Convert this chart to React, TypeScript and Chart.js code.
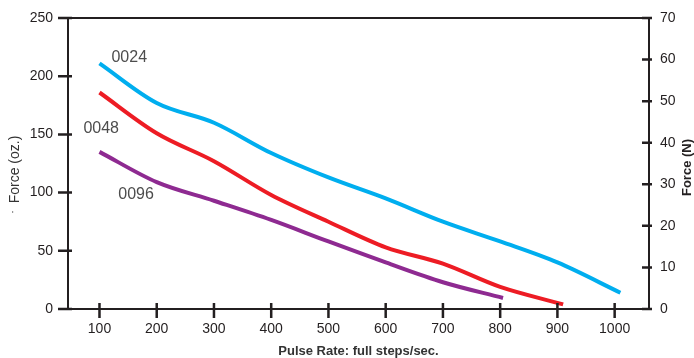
import React, { useEffect, useRef } from "react";
import { Chart, registerables } from "chart.js";

Chart.register(...registerables);

const xTicks = [100, 200, 300, 400, 500, 600, 700, 800, 900, 1000];
const s0024X = [100, 200, 300, 400, 500, 600, 700, 800, 900, 1010];
const s0024Y = [211, 177, 160, 134, 113, 95, 75, 58, 40, 14];
const s0048X = [100, 200, 300, 400, 500, 600, 700, 800, 910];
const s0048Y = [186, 151, 127, 98, 75, 53, 39, 19, 4];
const s0096X = [100, 200, 300, 400, 500, 600, 700, 805];
const s0096Y = [135, 109, 93, 76.5, 58, 40, 23, 9.5];
const seriesNames = ["0024", "0048", "0096"];
const labelX = [152, 103, 164];
const labelY = [216, 155, 98];
const xTitle = "Pulse Rate: full steps/sec.";
const yTitle = "Force (oz.)";
const y2Title = "Force (N)";

const AXIS = "#231f20";
const FONT = "'Liberation Sans', Arial, sans-serif";

export default function App() {
  const ref = useRef<HTMLCanvasElement | null>(null);
  useEffect(() => {
    document.body.style.margin = "0";
    const ctx = ref.current!.getContext("2d")!;
    const mk = (xs: number[], ys: number[]) => xs.map((x, i) => ({ x, y: ys[i] }));
    const frame = {
      id: "frame",
      afterDraw(chart: any) {
        const c = chart.ctx;
        const a = chart.chartArea;
        const x = chart.scales.x;
        const y = chart.scales.y;
        const y2 = chart.scales.y2;
        const midY = (a.top + a.bottom) / 2;
        c.save();
        c.strokeStyle = AXIS;
        c.lineWidth = 2;
        c.strokeRect(a.left, a.top, a.right - a.left, a.bottom - a.top);
        c.lineWidth = 2.5;
        c.beginPath();
        x.ticks.forEach((t: any) => {
          const px = x.getPixelForValue(t.value);
          c.moveTo(px, a.bottom - 6);
          c.lineTo(px, a.bottom + 9);
        });
        y.ticks.forEach((t: any) => {
          const py = y.getPixelForValue(t.value);
          c.moveTo(a.left - 10, py);
          c.lineTo(a.left + 4, py);
        });
        y2.ticks.forEach((t: any) => {
          const py = y2.getPixelForValue(t.value);
          c.moveTo(a.right - 7, py);
          c.lineTo(a.right + 3, py);
        });
        c.stroke();
        // series labels
        c.fillStyle = "#4d4d4d";
        c.font = `16px ${FONT}`;
        c.textAlign = "center";
        c.textBaseline = "middle";
        seriesNames.forEach((n, i) => {
          c.fillText(n, x.getPixelForValue(labelX[i]), y.getPixelForValue(labelY[i]));
        });
        // x title
        c.fillStyle = "#333";
        c.font = `bold 13px ${FONT}`;
        c.fillText(xTitle, (a.left + a.right) / 2, 351);
        // left title
        c.save();
        c.font = `14px ${FONT}`;
        c.translate(15, midY + 6);
        c.rotate(-Math.PI / 2);
        c.fillText(yTitle, 0, 0);
        c.restore();
        c.save();
        c.font = `10px ${FONT}`;
        c.translate(13, 212);
        c.rotate(-Math.PI / 2);
        c.fillText("·", 0, 0);
        c.restore();
        // right title
        c.fillStyle = AXIS;
        c.font = `bold 13px ${FONT}`;
        c.translate(687, midY + 4);
        c.rotate(-Math.PI / 2);
        c.fillText(y2Title, 0, 0);
        c.restore();
      },
    };
    const fitV = (w: number) => (s: any) => {
      s.width = w;
      s.paddingTop = 0;
      s.paddingBottom = 0;
    };
    const chart = new Chart(ctx, {
      type: "line",
      data: {
        datasets: [
          { label: seriesNames[0], data: mk(s0024X, s0024Y), borderColor: "#00aeef" },
          { label: seriesNames[1], data: mk(s0048X, s0048Y), borderColor: "#ed1c24" },
          { label: seriesNames[2], data: mk(s0096X, s0096Y), borderColor: "#8e2a91" },
        ].map((d) => ({
          ...d,
          borderWidth: 4,
          pointRadius: 0,
          tension: 0.4,
          cubicInterpolationMode: "monotone" as const,
          fill: false,
          yAxisID: "y",
        })),
      },
      options: {
        animation: false,
        responsive: false,
        layout: { padding: { top: 18, left: 0, right: 0, bottom: 0 } },
        plugins: { legend: { display: false }, tooltip: { enabled: false } },
        scales: {
          x: {
            type: "linear",
            min: 45,
            max: 1060,
            afterBuildTicks: (s: any) => {
              s.ticks = xTicks.map((v) => ({ value: v }));
            },
            afterFit: (s: any) => {
              s.height = 49;
              s.paddingLeft = 0;
              s.paddingRight = 0;
            },
            grid: { display: false, drawTicks: false },
            border: { display: false },
            ticks: {
              padding: 12,
              color: AXIS,
              font: { family: FONT, size: 14 },
              maxRotation: 0,
              autoSkip: false,
              callback: (v: any) => String(v),
            },
          },
          y: {
            position: "left",
            min: 0,
            max: 250,
            ticks: { stepSize: 50, padding: 15, color: AXIS, font: { family: FONT, size: 14 } },
            afterFit: fitV(68),
            grid: { display: false, drawTicks: false },
            border: { display: false },
          },
          y2: {
            position: "right",
            min: 0,
            max: 70,
            ticks: { stepSize: 10, padding: 11, color: AXIS, font: { family: FONT, size: 14 } },
            afterFit: fitV(45),
            grid: { display: false, drawTicks: false },
            border: { display: false },
          },
        },
      },
      plugins: [frame],
    });
    return () => chart.destroy();
  }, []);
  return <canvas ref={ref} width={694} height={358} style={{ display: "block" }} />;
}
